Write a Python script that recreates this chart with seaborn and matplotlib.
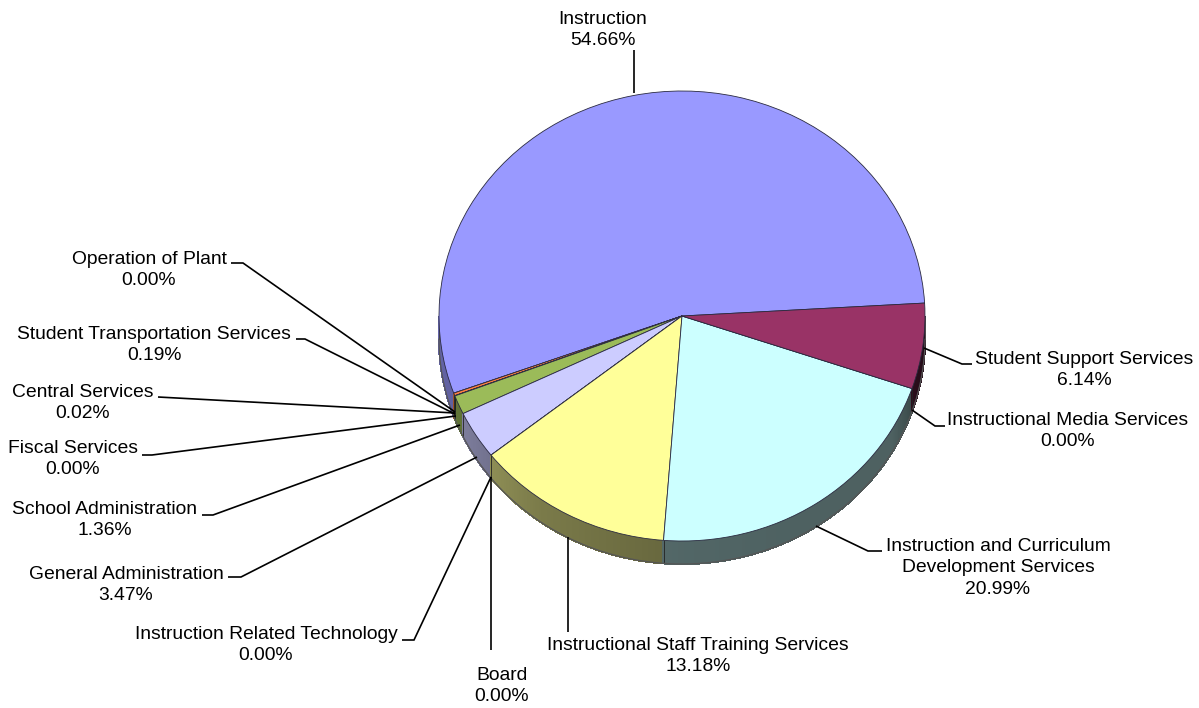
import numpy as np
import matplotlib
matplotlib.use("Agg")
import matplotlib.pyplot as plt
import seaborn as sns

sns.set_theme(style="white")
plt.rcParams["font.family"] = ["Liberation Sans", "DejaVu Sans"]

# Budget shares, counter-clockwise from the start of the largest slice
categories = ["Instruction", "Operation of Plant", "Student Transportation Services",
              "Central Services", "Fiscal Services", "School Administration",
              "General Administration", "Instruction Related Technology", "Board",
              "Instructional Staff Training Services",
              "Instruction and Curriculum\nDevelopment Services",
              "Instructional Media Services", "Student Support Services"]
shares = [54.66, 0.00, 0.19, 0.02, 0.00, 1.36, 3.47, 0.00, 0.00, 13.18, 20.99, 0.00, 6.14]
slice_colors = ["#9999FF", "#FF00FF", "#FF8040", "#808000", "#3366FF", "#9BBB59",
                "#CCCCFF", "#FFFF00", "#00FFFF", "#FFFF99", "#CCFFFF", "#660066", "#993366"]

# Label centres and leader paths, in figure pixels from the top left
label_centers = [(603, 30), (149, 270), (154, 345), (83, 403), (73, 459), (105, 520),
                 (126, 585), (266, 645), (502, 686), (698, 656), (998, 568),
                 (1068, 431), (1084, 370)]
leaders = [[(634, 50), (634, 93)],
           [(231, 263), (243, 263), (455, 412)],
           [(296, 339), (305, 339), (455, 414)],
           [(158, 397), (455, 413)],
           [(142, 455), (152, 455), (456, 416)],
           [(202, 515), (213, 515), (460, 425)],
           [(228, 577), (241, 577), (477, 457)],
           [(402, 640), (414, 640), (491, 477)],
           [(491, 650), (491, 477)],
           [(568, 632), (568, 537)],
           [(882, 551), (868, 551), (816, 526)],
           [(945, 426), (935, 426), (912, 410)],
           [(972, 364), (962, 364), (924, 348)]]

W, H = 1199, 708
CX, CY, RX, RY, DEPTH = 682, 316, 243, 225, 23
START = 3.3

fig = plt.figure(figsize=(W / 100, H / 100), dpi=100, facecolor="white")

# Pie axes: unit circle stretched into the ellipse of the tilted disc
pad = 1.15
pie_ax = fig.add_axes([(CX - RX * pad) / W, 1 - (CY + RY * pad) / H,
                       2 * RX * pad / W, 2 * RY * pad / H])
drop = DEPTH / RY

# Shading of the rim, by direction around the disc
shade_angle = [180, 205, 235, 270, 300, 330, 345, 360]
shade_level = [0.66, 0.62, 0.48, 0.40, 0.38, 0.38, 0.26, 0.24]

fractions = np.array(shares) / np.sum(shares)
edges = START + 360 * np.concatenate([[0], np.cumsum(fractions)])
for a0, a1, color in zip(edges[:-1], edges[1:], slice_colors):
    lo, hi = max(a0, 180), min(a1, 360)
    if hi <= lo:
        continue
    steps = np.linspace(lo, hi, max(2, int((hi - lo) * 3) + 2))
    base = np.array(matplotlib.colors.to_rgb(color))
    for s0, s1 in zip(steps[:-1], steps[1:]):
        t = np.radians([s0, s1])
        xs = np.cos(t)
        ys = np.sin(t)
        rgb = base * np.interp((s0 + s1) / 2, shade_angle, shade_level)
        pie_ax.fill([xs[0], xs[1], xs[1], xs[0]],
                    [ys[0], ys[1], ys[1] - drop, ys[0] - drop],
                    facecolor=rgb, edgecolor=rgb, linewidth=0.8,
                    antialiased=False, zorder=1)
    if hi - lo > 0.05:
        # seam between neighbouring rim sections
        t = np.radians(lo)
        pie_ax.plot([np.cos(t)] * 2, [np.sin(t), np.sin(t) - drop],
                    color="#222222", lw=0.6, zorder=2)

# Outline of the lower rim
t = np.radians(np.linspace(180, 360, 200))
pie_ax.plot(np.cos(t), np.sin(t) - drop, color="#555555", lw=0.9, zorder=2)
pie_ax.plot([-1, -1], [0, -drop], color="#555555", lw=0.6, zorder=2)
pie_ax.plot([1, 1], [0, -drop], color="#555555", lw=0.6, zorder=2)

pie_ax.pie(shares, colors=slice_colors, startangle=START, counterclock=True,
           wedgeprops=dict(edgecolor="#2A2A40", linewidth=0.6, zorder=3))
pie_ax.set_aspect("auto")
pie_ax.set_xlim(-pad, pad)
pie_ax.set_ylim(-pad, pad)
pie_ax.axis("off")

# Overlay in pixel units for the labels and their leader lines
ax = fig.add_axes([0, 0, 1, 1], facecolor="none")
ax.set_xlim(0, W)
ax.set_ylim(H, 0)
ax.axis("off")
for name, share, center, path in zip(categories, shares, label_centers, leaders):
    ax.text(center[0], center[1], f"{name}\n{share:.2f}%", ha="center", va="center",
            fontsize=13.85, color="black", linespacing=1.33)
    px, py = zip(*path)
    ax.plot(px, py, color="black", lw=1.2, solid_capstyle="butt", solid_joinstyle="miter")

fig.savefig("out.png", dpi=100, facecolor="white")
